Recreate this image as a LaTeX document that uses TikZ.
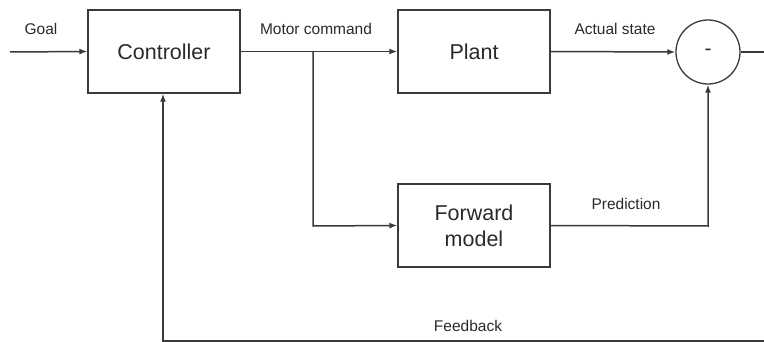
\documentclass[tikz,border=0pt]{standalone}
\usepackage{fontspec}
\setmainfont{Liberation Sans}
\usetikzlibrary{arrows.meta}
\definecolor{ln}{HTML}{3A3A3A}
\definecolor{tx}{HTML}{2A2A2A}
\begin{document}
\begin{tikzpicture}[x=1pt,y=-1pt,
  blk/.style={draw=ln, line width=1.3pt, minimum width=152pt, minimum height=83pt, inner sep=0pt, text=tx, font=\fontsize{21.5}{25}\selectfont, align=center},
  sumc/.style={draw=ln, line width=1.3pt, circle, minimum size=64pt, inner sep=0pt, text=tx, font=\fontsize{21}{25}\selectfont},
  lbl/.style={text=tx, font=\fontsize{15.5}{18}\selectfont, inner sep=0pt},
  wire/.style={draw=ln, line width=1.5pt},
  arr/.style={wire, -{Latex[length=8pt,width=6pt]}}]
\useasboundingbox (0,0) rectangle (764,342);
\node[blk] (ctrl) at (164,51.5) {Controller};
\node[blk] (plant) at (474,51.5) {Plant};
\node[blk] (fwd) at (474,225.5) {Forward\\[1pt]model};
\node[sumc] (sum) at (708,52) {-};
\coordinate (start) at (10,52);
\coordinate (br) at (313,52);
\coordinate (brd) at (313,226);
\coordinate (outr) at (764,52);
\coordinate (fbr) at (764,341);
\coordinate (fbl) at (163,341);
\coordinate (pr) at (708,226);
\draw[arr] (start) -- (ctrl.west);
\draw[arr] (ctrl.east) -- (plant.west);
\draw[arr] (br) -- (brd) -- (fwd.west);
\draw[arr] (plant.east) -- (sum.west);
\draw[arr] (fwd.east) -- (pr) -- (sum.south);
\draw[wire] (sum.east) -- (outr);
\draw[arr] (fbr) -- (fbl) -- (ctrl.south -| fbl);
\node[lbl] (lgoal) at (41,29) {Goal};
\node[lbl] (lmotor) at (316,29) {Motor command};
\node[lbl] (lactual) at (615,29) {Actual state};
\node[lbl] (lpred) at (626,204) {Prediction};
\node[lbl] (lfb) at (468,326) {Feedback};
\end{tikzpicture}
\end{document}
